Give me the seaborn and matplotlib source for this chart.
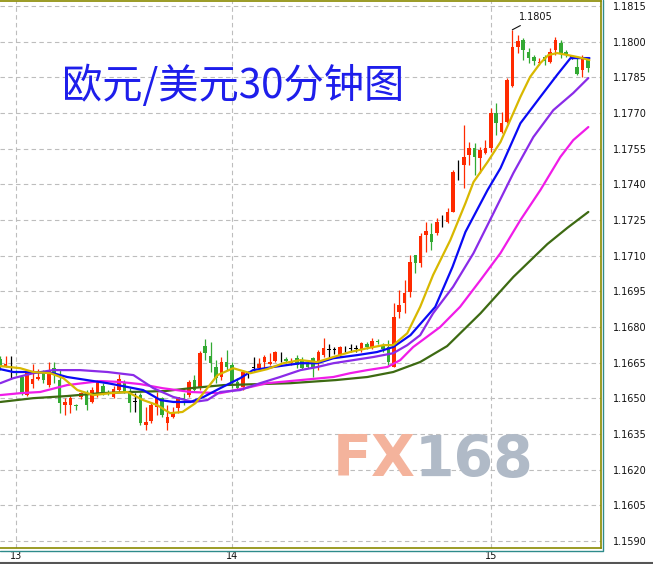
import numpy as np
import pandas as pd
import matplotlib
matplotlib.use("Agg")
import matplotlib.pyplot as plt
import seaborn as sns
from matplotlib.lines import Line2D

# ---------------- data (EUR/USD 30-minute candles) ----------------
opens = [1.16665, 1.16636, 1.16628, 1.16611, 1.16590, 1.16514, 1.16560, 1.16581, 1.16606, 1.16556,
         1.16627, 1.16577, 1.16472, 1.16472, 1.16472, 1.16506, 1.16527, 1.16485, 1.16514, 1.16552,
         1.16527, 1.16506, 1.16535, 1.16569, 1.16531, 1.16486, 1.16514, 1.16388, 1.16405, 1.16464,
         1.16501, 1.16396, 1.16422, 1.16459, 1.16501, 1.16514, 1.16577, 1.16543, 1.16720, 1.16678,
         1.16632, 1.16590, 1.16653, 1.16640, 1.16569, 1.16548, 1.16603, 1.16628, 1.16627, 1.16653,
         1.16644, 1.16657, 1.16670, 1.16665, 1.16648, 1.16669, 1.16661, 1.16648, 1.16669, 1.16648,
         1.16682, 1.16704, 1.16703, 1.16682, 1.16712, 1.16707, 1.16708, 1.16707, 1.16728, 1.16711,
         1.16741, 1.16720, 1.16716, 1.16632, 1.16863, 1.16901, 1.16948, 1.17103, 1.17069, 1.17187,
         1.17191, 1.17195, 1.17225, 1.17242, 1.17284, 1.17459, 1.17481, 1.17523, 1.17553, 1.17511,
         1.17532, 1.17553, 1.17700, 1.17620, 1.17662, 1.17813, 1.17977, 1.18007, 1.17956, 1.17935,
         1.17910, 1.17935, 1.17914, 1.17965, 1.17994, 1.17956, 1.17935, 1.17894, 1.17881, 1.17923]
highs = [1.16678, 1.16678, 1.16678, 1.16619, 1.16598, 1.16619, 1.16644, 1.16623, 1.16619, 1.16653,
         1.16653, 1.16619, 1.16501, 1.16514, 1.16476, 1.16527, 1.16535, 1.16548, 1.16577, 1.16564,
         1.16535, 1.16552, 1.16602, 1.16577, 1.16543, 1.16522, 1.16522, 1.16464, 1.16485, 1.16527,
         1.16506, 1.16472, 1.16464, 1.16508, 1.16522, 1.16577, 1.16598, 1.16699, 1.16749, 1.16737,
         1.16661, 1.16674, 1.16703, 1.16653, 1.16585, 1.16619, 1.16615, 1.16674, 1.16669, 1.16682,
         1.16690, 1.16699, 1.16695, 1.16674, 1.16669, 1.16682, 1.16674, 1.16657, 1.16674, 1.16703,
         1.16754, 1.16728, 1.16716, 1.16720, 1.16720, 1.16728, 1.16724, 1.16737, 1.16737, 1.16754,
         1.16749, 1.16733, 1.16745, 1.16901, 1.16956, 1.16998, 1.17103, 1.17105, 1.17195, 1.17242,
         1.17237, 1.17258, 1.17271, 1.17300, 1.17460, 1.17502, 1.17649, 1.17578, 1.17574, 1.17557,
         1.17586, 1.17721, 1.17742, 1.17704, 1.17847, 1.18050, 1.18028, 1.18015, 1.17973, 1.17944,
         1.17931, 1.17944, 1.17973, 1.18020, 1.18007, 1.17965, 1.17944, 1.17931, 1.17944, 1.17931]
lows = [1.16619, 1.16632, 1.16585, 1.16598, 1.16514, 1.16510, 1.16543, 1.16577, 1.16564, 1.16548,
        1.16564, 1.16438, 1.16430, 1.16438, 1.16451, 1.16497, 1.16451, 1.16480, 1.16506, 1.16514,
        1.16514, 1.16501, 1.16527, 1.16522, 1.16443, 1.16443, 1.16388, 1.16367, 1.16396, 1.16430,
        1.16422, 1.16367, 1.16417, 1.16438, 1.16472, 1.16506, 1.16527, 1.16535, 1.16661, 1.16611,
        1.16564, 1.16577, 1.16619, 1.16543, 1.16535, 1.16535, 1.16585, 1.16611, 1.16619, 1.16627,
        1.16640, 1.16653, 1.16653, 1.16648, 1.16640, 1.16627, 1.16623, 1.16627, 1.16590, 1.16619,
        1.16674, 1.16669, 1.16686, 1.16674, 1.16695, 1.16695, 1.16695, 1.16695, 1.16707, 1.16707,
        1.16728, 1.16695, 1.16640, 1.16630, 1.16837, 1.16858, 1.16927, 1.17027, 1.17053, 1.17116,
        1.17124, 1.17187, 1.17221, 1.17237, 1.17282, 1.17418, 1.17384, 1.17481, 1.17439, 1.17448,
        1.17527, 1.17536, 1.17607, 1.17616, 1.17658, 1.17809, 1.17952, 1.17923, 1.17910, 1.17902,
        1.17902, 1.17902, 1.17910, 1.17944, 1.17931, 1.17935, 1.17927, 1.17860, 1.17852, 1.17873]
closes = [1.16632, 1.16644, 1.16627, 1.16606, 1.16522, 1.16606, 1.16581, 1.16590, 1.16577, 1.16619,
          1.16598, 1.16480, 1.16485, 1.16501, 1.16468, 1.16522, 1.16472, 1.16535, 1.16569, 1.16527,
          1.16522, 1.16539, 1.16581, 1.16527, 1.16480, 1.16485, 1.16396, 1.16401, 1.16472, 1.16506,
          1.16430, 1.16422, 1.16438, 1.16506, 1.16493, 1.16569, 1.16535, 1.16690, 1.16690, 1.16648,
          1.16585, 1.16653, 1.16632, 1.16569, 1.16543, 1.16611, 1.16602, 1.16627, 1.16644, 1.16674,
          1.16653, 1.16695, 1.16669, 1.16657, 1.16657, 1.16640, 1.16627, 1.16632, 1.16627, 1.16695,
          1.16711, 1.16703, 1.16704, 1.16716, 1.16711, 1.16708, 1.16707, 1.16732, 1.16716, 1.16741,
          1.16737, 1.16707, 1.16653, 1.16842, 1.16893, 1.16943, 1.17074, 1.17069, 1.17183, 1.17204,
          1.17158, 1.17242, 1.17224, 1.17284, 1.17452, 1.17460, 1.17515, 1.17553, 1.17515, 1.17544,
          1.17553, 1.17700, 1.17658, 1.17658, 1.17839, 1.17977, 1.18003, 1.17965, 1.17931, 1.17918,
          1.17914, 1.17918, 1.17956, 1.18007, 1.17952, 1.17944, 1.17936, 1.17864, 1.17931, 1.17889]

# moving-average lines, read at sample positions (candle index, price)
ma_yellow_x = [0, 3.7, 6.1, 9.3, 11.7, 14.3, 17.3, 20.4, 23.6, 26.5, 29.1, 31.5, 33.8, 36.2, 38.4,
               40.3, 43.2, 46.4, 49.5, 52.5, 55.7, 58.8, 61.8, 64.9, 68.1, 71.1, 72.9, 75.5, 77.9,
               80.3, 83.5, 86.3, 87.8, 90.4, 92.8, 94.6, 96.5, 98.3, 100.2, 101.7, 103.3, 105.2,
               107.2, 109.3]
ma_yellow_y = [1.16636, 1.16627, 1.16611, 1.16606, 1.16585, 1.16535, 1.16514, 1.16522, 1.16527,
               1.16493, 1.16472, 1.16438, 1.16443, 1.16480, 1.16543, 1.16598, 1.16627, 1.16606,
               1.16623, 1.16648, 1.16661, 1.16653, 1.16674, 1.16695, 1.16711, 1.16724, 1.16724,
               1.16774, 1.16885, 1.17019, 1.17166, 1.17321, 1.17410, 1.17494, 1.17578, 1.17670,
               1.17768, 1.17852, 1.17910, 1.17944, 1.17952, 1.17944, 1.17935, 1.17923]
ma_blue_x = [0, 2.4, 6.1, 9.8, 12.4, 16.1, 19.9, 23.6, 26.5, 29.7, 32.1, 35.3, 37.7, 40.8, 44.5,
             46.9, 50.6, 55.7, 58.8, 61.8, 66.2, 69.9, 72.9, 76.1, 80.7, 83.9, 86.3, 90.4, 92.8,
             96.5, 100.2, 103.3, 105.8, 109.3]
ma_blue_y = [1.16623, 1.16611, 1.16611, 1.16606, 1.16590, 1.16577, 1.16564, 1.16548, 1.16535,
             1.16493, 1.16485, 1.16485, 1.16506, 1.16543, 1.16585, 1.16619, 1.16632, 1.16648,
             1.16648, 1.16669, 1.16682, 1.16695, 1.16716, 1.16766, 1.16885, 1.17053, 1.17200,
             1.17376, 1.17468, 1.17657, 1.17768, 1.17860, 1.17931, 1.17931]
ma_purple_x = [0, 2.4, 6.1, 9.8, 14.8, 19.9, 24.7, 28.4, 32.1, 35.8, 38.4, 40.8, 44.5, 48.2, 51.9,
               55.7, 58.8, 61.8, 65.5, 69.2, 72.9, 75.5, 77.9, 80.3, 84.0, 87.8, 91.5, 95.2, 98.9,
               102.6, 106.3, 109.1]
ma_purple_y = [1.16564, 1.16585, 1.16606, 1.16619, 1.16619, 1.16611, 1.16598, 1.16543, 1.16506,
               1.16485, 1.16493, 1.16527, 1.16535, 1.16564, 1.16590, 1.16619, 1.16632, 1.16648,
               1.16661, 1.16674, 1.16690, 1.16724, 1.16766, 1.16858, 1.16969, 1.17111, 1.17279,
               1.17448, 1.17599, 1.17712, 1.17784, 1.17847]
ma_magenta_x = [0, 3.7, 7.4, 12.4, 18.6, 22.3, 26.0, 30.1, 35.3, 40.8, 46.4, 49.5, 55.7, 61.8,
                64.9, 68.1, 71.8, 74.2, 76.6, 81.6, 85.3, 89.1, 92.8, 96.5, 100.2, 103.9, 106.3, 109.1]
ma_magenta_y = [1.16514, 1.16522, 1.16527, 1.16556, 1.16573, 1.16569, 1.16560, 1.16543, 1.16527,
                1.16522, 1.16548, 1.16564, 1.16577, 1.16590, 1.16606, 1.16619, 1.16632, 1.16661,
                1.16716, 1.16800, 1.16885, 1.16998, 1.17111, 1.17250, 1.17376, 1.17515, 1.17586,
                1.17641]
ma_green_x = [0, 6.1, 12.4, 18.6, 24.1, 30.6, 35.3, 41.4, 47.7, 53.8, 62.2, 68.1, 72.9, 77.9,
              82.9, 89.1, 95.2, 101.5, 105.2, 109.1]
ma_green_y = [1.16485, 1.16501, 1.16510, 1.16522, 1.16527, 1.16531, 1.16543, 1.16556, 1.16560,
              1.16564, 1.16577, 1.16590, 1.16611, 1.16653, 1.16720, 1.16858, 1.17011, 1.17149,
              1.17217, 1.17284]

day_tick_pos = [3, 43, 91]
day_tick_labels = ["13", "14", "15"]
price_ticks = [1.1590, 1.1605, 1.1620, 1.1635, 1.1650, 1.1665, 1.1680, 1.1695, 1.1710,
               1.1725, 1.1740, 1.1755, 1.1770, 1.1785, 1.1800, 1.1815]
title_text = "欧元/美元30分钟图"

# ---------------- styling ----------------
sns.set_style("white")
plt.rcParams['font.family'] = ['DejaVu Sans']

W, H = 653, 564
fig = plt.figure(figsize=(W / 100, H / 100), dpi=100)
fig.patch.set_facecolor("white")
ax = fig.add_axes([0, 16 / H, 601 / W, 547 / H])
ax.set_facecolor("white")

df = pd.DataFrame({"o": opens, "h": highs, "l": lows, "c": closes})
df["i"] = np.arange(len(df))
diff = df["c"] - df["o"]
col = np.where(diff > 0.00002, "#FF2A00", np.where(diff < -0.00002, "#33AA33", "#000000"))

# wicks
ax.vlines(df["i"], df["l"], df["h"], colors=col, linewidth=0.9, zorder=3)
# bodies
body_bottom = np.minimum(df["o"], df["c"])
body_h = np.maximum(np.abs(diff), 0.00003)
ax.bar(df["i"], body_h, bottom=body_bottom, width=0.66, color=col, linewidth=0, zorder=3)

# moving averages
ma_specs = [
    (ma_green_x, ma_green_y, "#3D6A12"),
    (ma_magenta_x, ma_magenta_y, "#F01CE8"),
    (ma_purple_x, ma_purple_y, "#8A2BE8"),
    (ma_blue_x, ma_blue_y, "#0A0AF5"),
    (ma_yellow_x, ma_yellow_y, "#D8B800"),
]
for xs, ys, c in ma_specs:
    sns.lineplot(x=xs, y=ys, color=c, linewidth=1.6, ax=ax, zorder=4, estimator=None, sort=False)

# axes limits / ticks
ax.set_xlim(-0.06, 111.45)
ax.set_ylim(1.15871, 1.18171)
ax.set_yticks(price_ticks)
ax.set_yticklabels([f"{t:.4f}" for t in price_ticks])
ax.set_xticks(day_tick_pos)
ax.set_xticklabels(day_tick_labels)
ax.yaxis.tick_right()
ax.tick_params(axis="y", length=0, pad=8.5, labelsize=7, labelcolor="#111111")
ax.tick_params(axis="x", length=0, pad=2.5, labelsize=7, labelcolor="#111111")
ax.grid(True, axis="both", color="#BDBDBD", linestyle=(0, (4, 3)), linewidth=0.8, zorder=0)
ax.set_axisbelow(True)

for s in ["top", "right", "bottom"]:
    ax.spines[s].set_color("#8A8A00")
    ax.spines[s].set_linewidth(1.2)
    ax.spines[s].set_visible(True)
ax.spines["left"].set_visible(False)

# outer teal frame line
fig.add_artist(Line2D([603 / W, 603 / W, 0], [1, 13.5 / H, 13.5 / H], transform=fig.transFigure,
                      color="#2E8B8B", linewidth=1.0))
fig.add_artist(Line2D([0, 1], [0.6 / H, 0.6 / H], transform=fig.transFigure,
                      color="#555555", linewidth=1.5))

# annotation for the high
imax = int(np.argmax(highs))
ax.annotate(f"{highs[imax]:.4f}", xy=(imax, highs[imax]), xytext=(5, 9),
            textcoords="offset points", fontsize=7, color="#111111", va="center", ha="left",
            arrowprops=dict(arrowstyle="-", color="#111111", linewidth=0.8, shrinkA=0, shrinkB=0))

# title
fig.text(62 / W, 1 - 86 / H, title_text, fontsize=29, color="#1E1EEB", ha="left", va="center",
         family=["Noto Sans CJK SC", "DejaVu Sans"])

# watermark
fig.text(333 / W, 1 - 461 / H, "FX", fontsize=41, fontweight="bold", color="#F4B39C",
         ha="left", va="center", family=["DejaVu Sans"])
fig.text(415 / W, 1 - 461 / H, "168", fontsize=41, fontweight="bold", color="#B0BAC7",
         ha="left", va="center", family=["DejaVu Sans"])

fig.savefig("out.png", dpi=100, facecolor="white")
